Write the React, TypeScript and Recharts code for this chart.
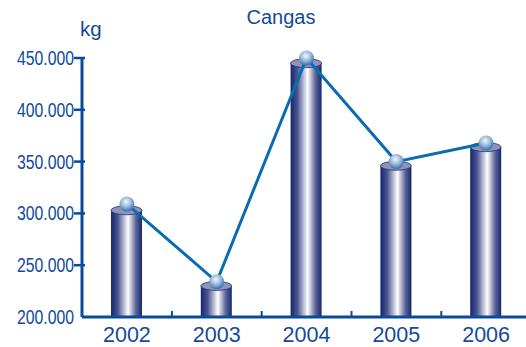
import { ComposedChart, Bar, Line, XAxis, YAxis } from "recharts";

const years = ["2002", "2003", "2004", "2005", "2006"];
const barValues = [303000, 230000, 445000, 346000, 364000];
const lineValues = [309000, 234000, 450000, 350000, 368000];
const yTicks = [200000, 250000, 300000, 350000, 400000, 450000];
const yTickLabels = ["200.000", "250.000", "300.000", "350.000", "400.000", "450.000"];

const data = years.map((year, i) => ({ year, bar: barValues[i], line: lineValues[i] }));

const FONT = "'Liberation Sans', Arial, sans-serif";
const TEXT = "#134a9a";
const AXIS = "#0a4a9c";

function Cylinder({ x, y, width, height }: any) {
  const ry = 4.5;
  return (
    <g>
      <rect x={x} y={y} width={width} height={height} fill="url(#cyl)" />
      <ellipse cx={x + width / 2} cy={y} rx={width / 2} ry={ry} fill="#8f92bb" stroke="#27306f" strokeWidth={0.8} />
    </g>
  );
}

function Ball({ cx, cy }: any) {
  return <circle cx={cx} cy={cy} r={7.5} fill="url(#ball)" />;
}

function YTick({ x, y, payload }: any) {
  const label = yTickLabels[yTicks.indexOf(payload.value)];
  return (
    <g>
      {payload.value !== 200000 && <line x1={x} x2={x + 11} y1={y} y2={y} stroke={AXIS} strokeWidth={2.5} />}
      <text x={17} y={y + 7} fontSize={20} fontFamily={FONT} fill={TEXT} textLength={57} lengthAdjust="spacingAndGlyphs">
        {label}
      </text>
    </g>
  );
}

function XTick({ x, y, payload }: any) {
  return (
    <g>
      <line x1={x + 45} x2={x + 45} y1={317} y2={311} stroke={AXIS} strokeWidth={2} />
      <text x={x} y={y + 17} textAnchor="middle" fontSize={21.5} fontFamily={FONT} fill={TEXT}>
        {payload.value}
      </text>
    </g>
  );
}

export default function App() {
  return (
    <div style={{ position: "absolute", left: 0, top: 0, width: 526, height: 347, overflow: "hidden", background: "#fff" }}>
      <ComposedChart
        width={531}
        height={347}
        data={data}
        margin={{ top: 58, right: 0, bottom: 0, left: 0 }}
        barCategoryGap={0}
      >
        <defs>
          <linearGradient id="cyl" x1="0" y1="0" x2="1" y2="0">
            <stop offset="0" stopColor="#14266e" />
            <stop offset="0.22" stopColor="#4a5590" />
            <stop offset="0.55" stopColor="#ffffff" />
            <stop offset="0.8" stopColor="#5d6698" />
            <stop offset="1" stopColor="#14266e" />
          </linearGradient>
          <radialGradient id="ball" cx="0.45" cy="0.35" r="0.65">
            <stop offset="0" stopColor="#f2f6fb" />
            <stop offset="0.5" stopColor="#9dbbdc" />
            <stop offset="1" stopColor="#2f6fb0" />
          </radialGradient>
        </defs>
        <XAxis
          dataKey="year"
          height={30}
          tick={<XTick />}
          tickLine={false}
          axisLine={{ stroke: AXIS, strokeWidth: 3 }}
        />
        <YAxis
          width={82}
          domain={[200000, 450000]}
          ticks={yTicks}
          interval={0}
          tick={<YTick />}
          tickLine={false}
          axisLine={{ stroke: AXIS, strokeWidth: 3 }}
        />
        <Bar dataKey="bar" barSize={31} shape={<Cylinder />} isAnimationActive={false} />
        <Line
          dataKey="line"
          type="linear"
          stroke="#0a6bb0"
          strokeWidth={3}
          dot={<Ball />}
          activeDot={false}
          isAnimationActive={false}
        />
        <text x={281} y={24} textAnchor="middle" fontSize={20} fontFamily={FONT} fill={TEXT}>
          Cangas
        </text>
        <text x={80} y={36} fontSize={20.5} fontFamily={FONT} fill={TEXT}>
          kg
        </text>
      </ComposedChart>
    </div>
  );
}
